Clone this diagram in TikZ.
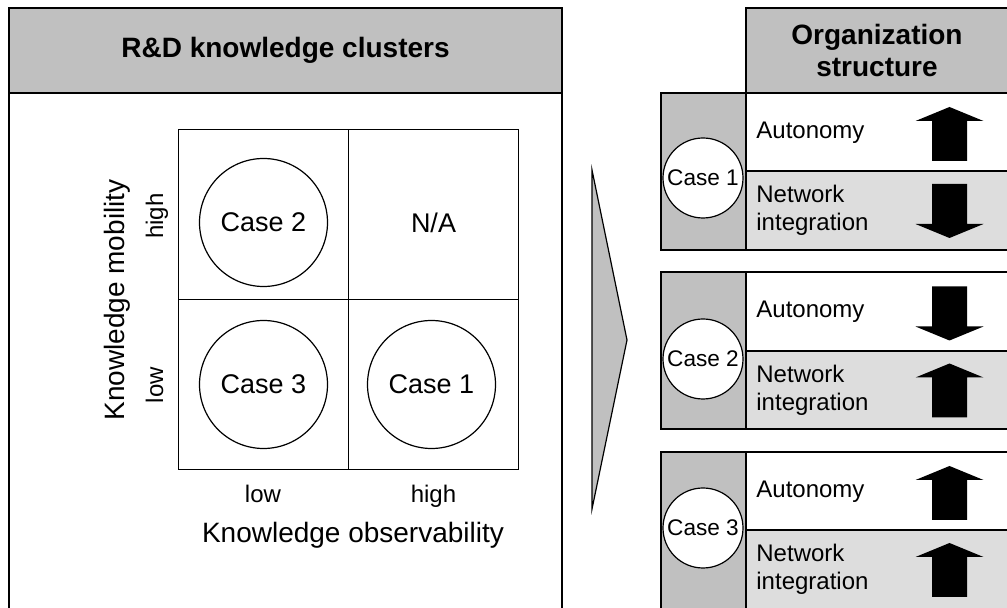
\documentclass[tikz,border=0pt]{standalone}
\usepackage{fontspec}
\setmainfont{Liberation Sans}
\usetikzlibrary{matrix,positioning}
\definecolor{hdgray}{RGB}{192,192,192}
\definecolor{rowgray}{RGB}{221,221,221}
\tikzset{panel/.style={draw, line width=1pt},
         header/.style={panel, fill=hdgray, align=center, inner sep=0pt,
           font=\fontsize{14}{16}\selectfont\bfseries},
         cell/.style={draw, line width=0.75pt, minimum width=85pt,
           minimum height=85pt, inner sep=0pt},
         bigcase/.style={draw, circle, fill=white, line width=0.6pt,
           minimum size=64pt, inner sep=0pt, font=\fontsize{13.5}{16}\selectfont},
         smallcase/.style={draw, circle, fill=white, line width=0.6pt,
           minimum size=40pt, inner sep=0pt, font=\fontsize{11.3}{13}\selectfont},
         casecol/.style={panel, fill=hdgray, minimum width=42.5pt,
           minimum height=78.5pt, inner sep=0pt},
         factor/.style={panel, minimum width=131pt, minimum height=39.25pt,
           inner sep=0pt},
         pics/trend/.style={code={
           \fill[yscale=#1] (0,-27) -- (34,-13) -- (17.5,-13) -- (17.5,27)
             -- (-17.5,27) -- (-17.5,-13) -- (-34,-13) -- cycle;}}}
\tikzstyle{axistitle}=[inner sep=0pt, font=\fontsize{14}{16}\selectfont]
\tikzstyle{ticklab}=[inner sep=0pt, font=\fontsize{12}{14}\selectfont]
\tikzstyle{rowlab}=[inner sep=0pt, align=left, font=\fontsize{12}{14}\selectfont]

\begin{document}
\begin{tikzpicture}[x=0.5pt, y=-0.5pt]
   \useasboundingbox (0,0) rectangle (1007,608);
   % knowledge clusters
   \draw[panel] (9,8) rectangle (562,640);
   \node[header, minimum width=276.5pt, minimum height=42.5pt] (rdhead)
     at (285.5,50.5) {R\&D knowledge clusters};
   \matrix (grid) [matrix of nodes, nodes in empty cells, nodes={cell},
                   column sep=-0.75pt, row sep=-0.75pt] at (348.5,299.5)
     {
       & \\
       & \\
     };
   \node[bigcase] (case2) at ([yshift=-4pt]grid-1-1) {Case 2};
   \node[font=\fontsize{13.5}{16}\selectfont] (na) at ([yshift=-4pt]grid-1-2) {N/A};
   \node[bigcase] (case3) at (grid-2-1) {Case 3};
   \node[bigcase] (case1) at ([xshift=-1pt]grid-2-2) {Case 1};
   \node[ticklab, rotate=90, anchor=base] (mhigh) at (163,216) {high};
   \node[ticklab, rotate=90, anchor=base] (mlow) at (163,385) {low};
   \node[axistitle, rotate=90, anchor=base] (mobility) at (124,300) {Knowledge mobility};
   \node[ticklab, anchor=base] (olow) at (263,503) {low};
   \node[ticklab, anchor=base] (ohigh) at (433.5,503) {high};
   \node[axistitle, anchor=base] (observ) at (353,543) {Knowledge observability};
   % chevron
   \draw[fill=hdgray, line width=0.6pt] (592,170) -- (627,340) -- (592,509) -- cycle;
   % organization structure
   \node[header, minimum width=131pt, minimum height=42.5pt] (orghead)
     at (877,50.5) {Organization\\structure};
   \foreach \i/\t/\cy/\ua/\na in {1/93/178/1/-1, 2/272.5/359/-1/1, 3/452/528/1/1}
   {
     \node[casecol] (col\i) at (703.5,{\t+78.5}) {};
     \node[factor, fill=white] (aut\i) at (877,{\t+39.25}) {};
     \node[factor, fill=rowgray] (net\i) at (877,{\t+117.75}) {};
     \node[rowlab, anchor=west] (autl\i) at ([xshift=5.5pt]aut\i.west) {Autonomy};
     \node[rowlab, anchor=west] (netl\i) at ([xshift=5.5pt]net\i.west) {Network\\integration};
     \node[smallcase] (sc\i) at (703,\cy) {Case \i};
     \pic at (949.5,{\t+41}) {trend=\ua};
     \pic at (949.5,{\t+118}) {trend=\na};
   }
\end{tikzpicture}
\end{document}
